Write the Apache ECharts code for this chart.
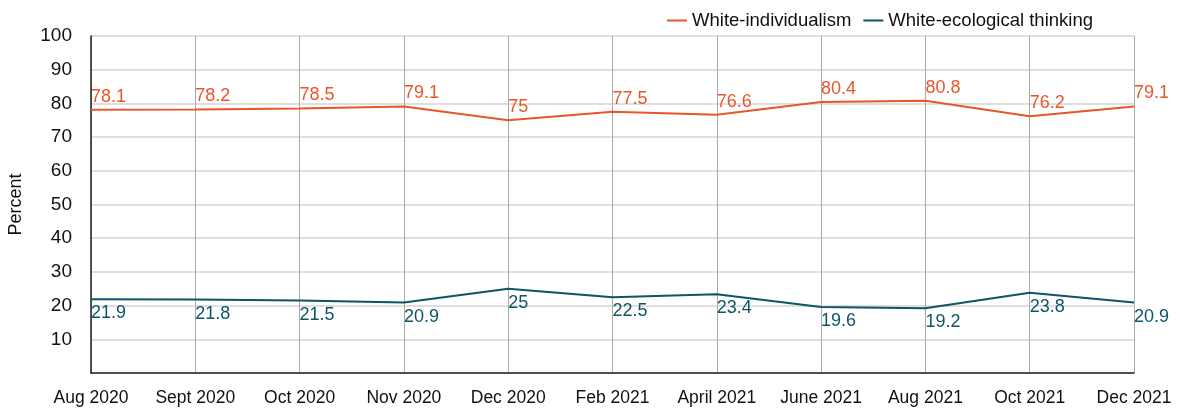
<!DOCTYPE html>
<html>
<head>
<meta charset="utf-8">
<script src="https://cdn.jsdelivr.net/npm/echarts@6/dist/echarts.min.js"></script>
<style>
  html, body { margin: 0; padding: 0; background: #fff; }
  #chart { width: 1180px; height: 411px; }
</style>
</head>
<body>
<div id="chart"></div>
<script>
const months = ['Aug 2020', 'Sept 2020', 'Oct 2020', 'Nov 2020', 'Dec 2020', 'Feb 2021', 'April 2021', 'June 2021', 'Aug 2021', 'Oct 2021', 'Dec 2021']
const individualism = [78.1, 78.2, 78.5, 79.1, 75, 77.5, 76.6, 80.4, 80.8, 76.2, 79.1]
const ecological = [21.9, 21.8, 21.5, 20.9, 25, 22.5, 23.4, 19.6, 19.2, 23.8, 20.9]

const font = 'Liberation Sans, Arial, sans-serif'
const orange = '#e8562a'
const teal = '#0e5565'

const chart = echarts.init(document.getElementById('chart'))
chart.setOption({
  animation: false,
  textStyle: { fontFamily: font },
  legend: {
    right: 82,
    top: 6,
    icon: 'rect',
    itemWidth: 20,
    itemHeight: 2,
    itemGap: 12,
    textStyle: { color: '#111', fontSize: 18.5, fontFamily: font },
    data: ['White-individualism', 'White-ecological thinking']
  },
  grid: { left: 91, right: 46, top: 36, bottom: 38, outerBoundsMode: 'none' },
  xAxis: {
    type: 'category',
    boundaryGap: false,
    data: months,
    axisLine: { lineStyle: { color: '#222', width: 1.5 } },
    axisTick: { show: false },
    axisLabel: { color: '#111', fontSize: 17.5, margin: 16, interval: 0 },
    splitLine: { show: true, lineStyle: { color: '#aaa', width: 1 } }
  },
  yAxis: {
    type: 'value',
    min: 0,
    max: 100,
    interval: 10,
    name: 'Percent',
    nameLocation: 'middle',
    nameGap: 66,
    nameTextStyle: { color: '#111', fontSize: 18 },
    axisLine: { show: true, lineStyle: { color: '#222', width: 1.5 } },
    axisTick: { show: false },
    axisLabel: {
      color: '#111',
      fontSize: 19,
      margin: 19,
      formatter: v => v === 0 ? '' : v
    },
    splitLine: { lineStyle: { color: '#d4d4d4', width: 1.5 } }
  },
  series: [
    {
      name: 'White-individualism',
      type: 'line',
      data: individualism,
      symbol: 'circle',
      symbolSize: 0,
      itemStyle: { color: orange },
      lineStyle: { color: orange, width: 2 },
      label: {
        show: true,
        position: 'top',
        align: 'left',
        verticalAlign: 'bottom',
        distance: 4,
        color: orange,
        fontSize: 18,
        fontFamily: font
      }
    },
    {
      name: 'White-ecological thinking',
      type: 'line',
      data: ecological,
      symbol: 'circle',
      symbolSize: 0,
      itemStyle: { color: teal },
      lineStyle: { color: teal, width: 2 },
      label: {
        show: true,
        position: 'bottom',
        align: 'left',
        verticalAlign: 'top',
        distance: 5,
        color: teal,
        fontSize: 18,
        fontFamily: font
      }
    }
  ]
})
</script>
</body>
</html>
